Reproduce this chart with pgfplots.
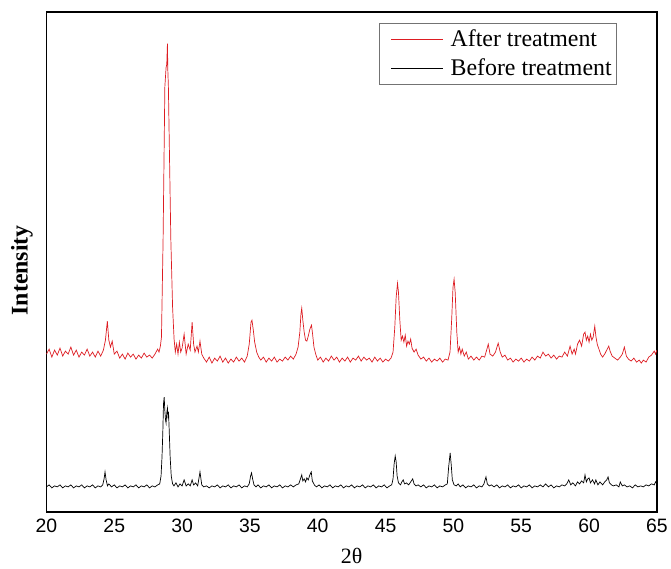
\documentclass[border=0pt]{standalone}
\usepackage{fontspec}
\setmainfont{Liberation Serif}
\newfontfamily\arialfont{Liberation Sans}
\usepackage{pgfplots}
\usepackage{pgfplotstable}
\pgfplotsset{compat=1.18}
\definecolor{xrdred}{RGB}{221,28,34}

% after treatment (2theta, intensity, arbitrary units)
\pgfplotstableread[row sep=\\]{
x y \\
20.0 158 \\ 20.2 163 \\ 20.4 155 \\ 20.6 162 \\ 20.8 157 \\ 21.0 164 \\ 21.2 156 \\ 21.4 161 \\
21.6 158 \\ 21.8 165 \\ 22.0 157 \\ 22.2 162 \\ 22.4 155 \\ 22.6 160 \\ 22.8 157 \\ 23.0 163 \\
23.2 156 \\ 23.4 160 \\ 23.6 155 \\ 23.8 161 \\ 24.0 156 \\ 24.2 162 \\ 24.35 172 \\ 24.49 191 \\
24.6 172 \\ 24.72 165 \\ 24.85 171 \\ 25.0 158 \\ 25.2 161 \\ 25.4 154 \\ 25.6 158 \\ 25.8 153 \\
26.0 159 \\ 26.2 155 \\ 26.4 158 \\ 26.6 153 \\ 26.8 157 \\ 27.0 154 \\ 27.2 159 \\ 27.4 155 \\
27.6 157 \\ 27.8 154 \\ 28.0 158 \\ 28.2 163 \\ 28.3 160 \\ 28.4 166 \\ 28.48 175 \\ 28.60 273 \\
28.73 426 \\ 28.82 445 \\ 28.87 448 \\ 28.92 469 \\ 28.95 442 \\ 28.99 426 \\ 29.17 273 \\ 29.30 205 \\
29.41 173 \\ 29.5 160 \\ 29.6 168 \\ 29.7 158 \\ 29.8 170 \\ 29.9 160 \\ 30.0 164 \\ 30.15 178 \\
30.3 158 \\ 30.45 168 \\ 30.6 162 \\ 30.74 190 \\ 30.85 168 \\ 30.95 160 \\ 31.1 166 \\ 31.2 160 \\
31.32 171 \\ 31.45 158 \\ 31.6 154 \\ 31.8 150 \\ 32.0 155 \\ 32.2 149 \\ 32.4 154 \\ 32.6 151 \\
32.8 156 \\ 33.0 150 \\ 33.2 154 \\ 33.4 149 \\ 33.6 153 \\ 33.8 150 \\ 34.0 155 \\ 34.2 151 \\
34.4 154 \\ 34.6 150 \\ 34.8 156 \\ 34.95 168 \\ 35.08 190 \\ 35.15 192 \\ 35.25 182 \\ 35.35 170 \\
35.5 160 \\ 35.65 155 \\ 35.8 152 \\ 36.0 155 \\ 36.2 150 \\ 36.4 154 \\ 36.6 151 \\ 36.8 155 \\
37.0 150 \\ 37.2 153 \\ 37.4 151 \\ 37.6 155 \\ 37.8 152 \\ 38.0 156 \\ 38.2 153 \\ 38.4 158 \\
38.55 165 \\ 38.68 180 \\ 38.76 198 \\ 38.82 204 \\ 38.9 192 \\ 39.0 180 \\ 39.1 172 \\ 39.2 171 \\
39.3 176 \\ 39.42 183 \\ 39.54 187 \\ 39.62 178 \\ 39.72 165 \\ 39.85 158 \\ 40.0 152 \\ 40.2 155 \\
40.4 150 \\ 40.6 154 \\ 40.8 151 \\ 41.0 156 \\ 41.2 152 \\ 41.4 155 \\ 41.6 150 \\ 41.8 154 \\
42.0 151 \\ 42.2 155 \\ 42.4 150 \\ 42.6 154 \\ 42.8 152 \\ 43.0 156 \\ 43.2 151 \\ 43.4 155 \\
43.6 152 \\ 43.8 154 \\ 44.0 150 \\ 44.2 155 \\ 44.4 151 \\ 44.6 154 \\ 44.8 150 \\ 45.0 153 \\
45.2 151 \\ 45.4 154 \\ 45.55 160 \\ 45.68 185 \\ 45.78 215 \\ 45.88 229 \\ 45.95 220 \\ 46.05 192 \\
46.15 172 \\ 46.25 176 \\ 46.35 170 \\ 46.45 177 \\ 46.55 166 \\ 46.65 171 \\ 46.75 168 \\ 46.85 173 \\
46.95 164 \\ 47.1 160 \\ 47.25 163 \\ 47.4 157 \\ 47.6 153 \\ 47.8 155 \\ 48.0 151 \\ 48.2 154 \\
48.4 150 \\ 48.6 153 \\ 48.8 151 \\ 49.0 154 \\ 49.2 150 \\ 49.4 153 \\ 49.6 152 \\ 49.75 160 \\
49.88 195 \\ 49.97 225 \\ 50.05 233 \\ 50.13 220 \\ 50.25 180 \\ 50.35 160 \\ 50.45 165 \\ 50.55 158 \\
50.65 163 \\ 50.8 156 \\ 50.95 160 \\ 51.1 153 \\ 51.3 156 \\ 51.5 152 \\ 51.7 155 \\ 51.9 152 \\
52.1 156 \\ 52.3 155 \\ 52.45 162 \\ 52.57 168 \\ 52.7 158 \\ 52.9 156 \\ 53.1 160 \\ 53.3 169 \\
53.45 160 \\ 53.6 155 \\ 53.8 157 \\ 54.0 152 \\ 54.2 154 \\ 54.4 150 \\ 54.6 153 \\ 54.8 151 \\
55.0 154 \\ 55.2 150 \\ 55.4 153 \\ 55.6 151 \\ 55.8 155 \\ 56.0 152 \\ 56.2 156 \\ 56.4 154 \\
56.6 160 \\ 56.8 156 \\ 57.0 158 \\ 57.2 154 \\ 57.4 157 \\ 57.6 153 \\ 57.8 156 \\ 58.0 155 \\
58.2 160 \\ 58.4 156 \\ 58.6 166 \\ 58.75 158 \\ 58.9 163 \\ 59.0 158 \\ 59.15 168 \\ 59.3 172 \\
59.45 166 \\ 59.6 178 \\ 59.7 180 \\ 59.8 172 \\ 59.9 176 \\ 60.0 170 \\ 60.1 178 \\ 60.2 172 \\
60.3 175 \\ 60.42 186 \\ 60.5 176 \\ 60.6 168 \\ 60.7 164 \\ 60.85 158 \\ 61.0 155 \\ 61.15 158 \\
61.3 162 \\ 61.45 166 \\ 61.55 161 \\ 61.7 156 \\ 61.9 154 \\ 62.1 152 \\ 62.3 155 \\ 62.45 158 \\
62.6 165 \\ 62.75 156 \\ 62.9 153 \\ 63.1 151 \\ 63.3 154 \\ 63.5 150 \\ 63.7 152 \\ 63.85 149 \\
64.0 152 \\ 64.2 150 \\ 64.4 155 \\ 64.6 157 \\ 64.8 161 \\ 64.9 158 \\ 65.0 162 \\
}\after

% before treatment
\pgfplotstableread[row sep=\\]{
x y \\
20.0 25 \\ 20.2 27 \\ 20.4 24 \\ 20.6 26 \\ 20.8 25 \\ 21.0 27 \\ 21.2 24 \\ 21.4 26 \\
21.6 25 \\ 21.8 27 \\ 22.0 24 \\ 22.2 26 \\ 22.4 25 \\ 22.6 27 \\ 22.8 24 \\ 23.0 26 \\
23.2 25 \\ 23.4 27 \\ 23.6 24 \\ 23.8 26 \\ 24.0 25 \\ 24.15 27 \\ 24.25 33 \\ 24.32 40 \\
24.4 32 \\ 24.5 26 \\ 24.6 28 \\ 24.8 25 \\ 25.0 27 \\ 25.2 24 \\ 25.4 26 \\ 25.6 25 \\
25.8 27 \\ 26.0 24 \\ 26.2 26 \\ 26.4 25 \\ 26.6 27 \\ 26.8 24 \\ 27.0 26 \\ 27.2 25 \\
27.4 27 \\ 27.6 24 \\ 27.8 26 \\ 28.0 25 \\ 28.2 27 \\ 28.35 28 \\ 28.45 36 \\ 28.52 55 \\
28.58 80 \\ 28.63 108 \\ 28.68 115 \\ 28.73 101 \\ 28.78 92 \\ 28.82 89 \\ 28.87 99 \\ 28.92 104 \\
28.96 96 \\ 29.0 100 \\ 29.05 82 \\ 29.12 55 \\ 29.2 36 \\ 29.3 28 \\ 29.4 26 \\ 29.55 29 \\
29.7 25 \\ 29.85 28 \\ 30.0 26 \\ 30.15 32 \\ 30.3 26 \\ 30.45 28 \\ 30.6 26 \\ 30.74 32 \\
30.85 27 \\ 31.0 29 \\ 31.15 26 \\ 31.32 40 \\ 31.45 27 \\ 31.6 25 \\ 31.8 26 \\ 32.0 24 \\
32.2 26 \\ 32.4 25 \\ 32.6 27 \\ 32.8 24 \\ 33.0 26 \\ 33.2 25 \\ 33.4 27 \\ 33.6 24 \\
33.8 26 \\ 34.0 25 \\ 34.2 27 \\ 34.4 24 \\ 34.6 26 \\ 34.8 25 \\ 34.95 28 \\ 35.05 36 \\
35.12 39 \\ 35.2 33 \\ 35.3 27 \\ 35.45 25 \\ 35.6 27 \\ 35.8 24 \\ 36.0 26 \\ 36.2 25 \\
36.4 27 \\ 36.6 24 \\ 36.8 26 \\ 37.0 25 \\ 37.2 27 \\ 37.4 24 \\ 37.6 26 \\ 37.8 25 \\
38.0 27 \\ 38.2 25 \\ 38.4 27 \\ 38.6 28 \\ 38.75 34 \\ 38.82 37 \\ 38.9 31 \\ 39.0 33 \\
39.1 30 \\ 39.2 34 \\ 39.3 32 \\ 39.42 37 \\ 39.52 40 \\ 39.6 31 \\ 39.75 27 \\ 39.9 25 \\
40.1 27 \\ 40.3 24 \\ 40.5 26 \\ 40.7 25 \\ 40.9 27 \\ 41.1 24 \\ 41.3 26 \\ 41.5 25 \\
41.7 27 \\ 41.9 24 \\ 42.1 26 \\ 42.3 25 \\ 42.5 27 \\ 42.7 24 \\ 42.9 26 \\ 43.1 25 \\
43.3 27 \\ 43.5 24 \\ 43.7 26 \\ 43.9 25 \\ 44.1 27 \\ 44.3 24 \\ 44.5 26 \\ 44.7 25 \\
44.9 27 \\ 45.1 24 \\ 45.3 26 \\ 45.45 27 \\ 45.55 33 \\ 45.63 48 \\ 45.71 56 \\ 45.78 50 \\
45.85 36 \\ 45.95 29 \\ 46.1 27 \\ 46.2 30 \\ 46.3 32 \\ 46.4 28 \\ 46.55 29 \\ 46.7 27 \\
46.85 30 \\ 47.0 33 \\ 47.1 28 \\ 47.25 26 \\ 47.4 27 \\ 47.6 25 \\ 47.8 27 \\ 48.0 24 \\
48.2 26 \\ 48.4 25 \\ 48.6 27 \\ 48.8 24 \\ 49.0 26 \\ 49.2 25 \\ 49.4 27 \\ 49.55 28 \\
49.65 45 \\ 49.76 59 \\ 49.84 47 \\ 49.92 32 \\ 50.05 27 \\ 50.2 26 \\ 50.35 28 \\ 50.5 25 \\
50.7 27 \\ 50.9 24 \\ 51.1 26 \\ 51.3 25 \\ 51.5 27 \\ 51.7 24 \\ 51.9 26 \\ 52.1 25 \\
52.25 28 \\ 52.4 35 \\ 52.5 28 \\ 52.65 26 \\ 52.8 27 \\ 53.0 25 \\ 53.2 27 \\ 53.4 24 \\
53.6 26 \\ 53.8 25 \\ 54.0 27 \\ 54.2 24 \\ 54.4 26 \\ 54.6 25 \\ 54.8 27 \\ 55.0 24 \\
55.2 26 \\ 55.4 25 \\ 55.6 27 \\ 55.8 24 \\ 56.0 26 \\ 56.2 25 \\ 56.4 27 \\ 56.6 25 \\
56.8 28 \\ 57.0 25 \\ 57.2 27 \\ 57.4 24 \\ 57.6 26 \\ 57.8 25 \\ 58.0 27 \\ 58.2 26 \\
58.35 28 \\ 58.5 32 \\ 58.65 27 \\ 58.8 29 \\ 59.0 26 \\ 59.15 30 \\ 59.3 28 \\ 59.45 31 \\
59.6 29 \\ 59.7 37 \\ 59.8 30 \\ 59.9 33 \\ 60.0 34 \\ 60.1 29 \\ 60.25 32 \\ 60.4 28 \\
60.5 32 \\ 60.65 27 \\ 60.8 30 \\ 61.0 27 \\ 61.15 30 \\ 61.3 32 \\ 61.4 35 \\ 61.5 29 \\
61.65 27 \\ 61.8 26 \\ 62.0 27 \\ 62.2 25 \\ 62.3 30 \\ 62.45 26 \\ 62.6 27 \\ 62.8 25 \\
63.0 26 \\ 63.2 24 \\ 63.4 27 \\ 63.6 25 \\ 63.8 26 \\ 64.0 25 \\ 64.2 27 \\ 64.4 26 \\
64.6 28 \\ 64.8 27 \\ 64.9 30 \\ 65.0 28 \\
}\before

\begin{document}
\begin{tikzpicture}
\begin{axis}[
  scale only axis,
  width=611.5bp, height=500.7bp,
  xmin=20, xmax=65, ymin=0, ymax=500.7,
  xtick={20,25,...,65},
  ytick=\empty,
  major tick length=0pt,
  axis line style={line width=1.4bp},
  /pgf/number format/assume math mode=true,
  tick label style={font=\arialfont\fontsize{19.5}{20}\selectfont},
  xticklabel style={yshift=-3.5bp},
  xlabel={2θ},
  xlabel style={at={(rel axis cs:0.5,0)},anchor=north,inner sep=0pt,yshift=-36bp,
    font=\fontsize{22}{24}\selectfont},
  ylabel={Intensity},
  ylabel style={at={(rel axis cs:-0.022,0.483)},anchor=south,inner sep=0pt,
    font=\bfseries\fontsize{24}{26}\selectfont},
  legend cell align=left,
  legend image code/.code={\path (0bp,0bp) (66bp,0bp); \draw[#1,line width=0.8bp] (10bp,0bp) -- (62bp,0bp);},
  legend style={at={(rel axis cs:0.9346,0.978)},anchor=north east,
    draw=black!55,line width=0.6bp,inner xsep=2bp,inner ysep=1bp,
    font=\fontsize{24}{26}\selectfont,
    nodes={inner xsep=3bp,inner ysep=5.5bp}},
]
\addplot[xrdred,line width=0.7bp] table[x=x,y=y] {\after};
\addplot[black,line width=0.7bp] table[x=x,y=y] {\before};
\legend{After treatment,Before treatment}
\end{axis}
\path ([shift={(-46.5bp,-56.3bp)}]current axis.south west)
  rectangle ([shift={(12.5bp,12bp)}]current axis.north east);
\end{tikzpicture}
\end{document}
